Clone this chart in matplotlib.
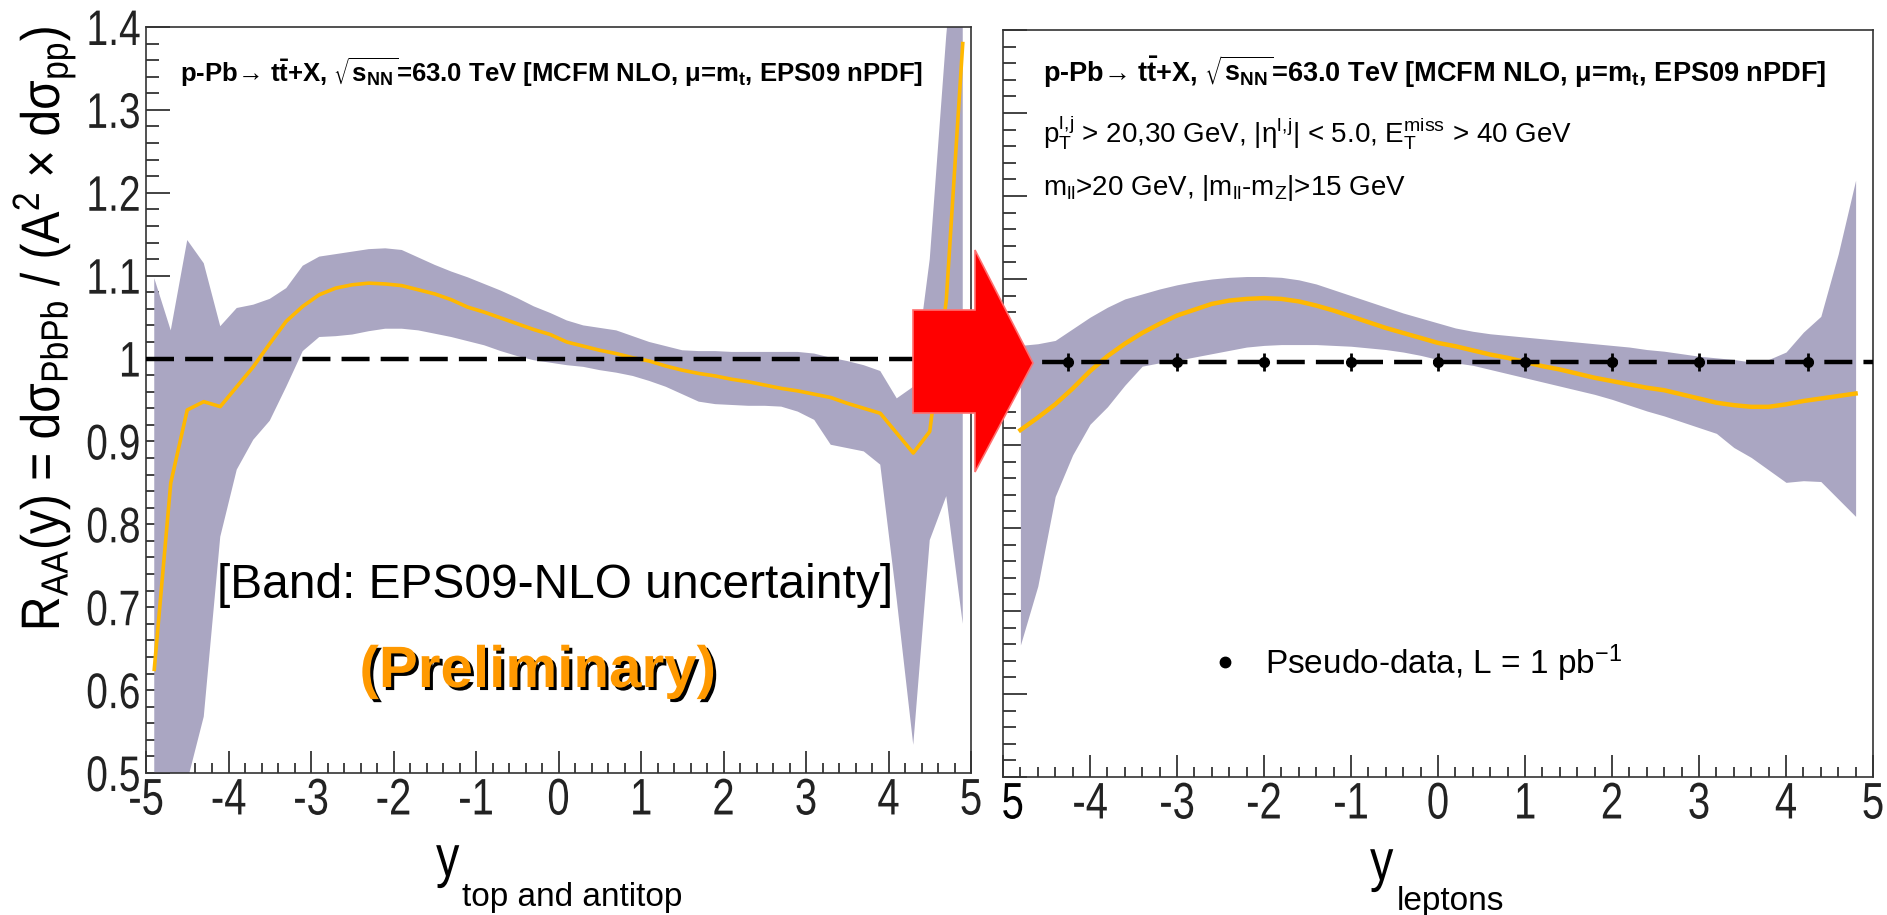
import matplotlib
matplotlib.use("Agg")
import matplotlib.pyplot as plt
import matplotlib.patheffects as pe
from matplotlib.patches import Polygon
from matplotlib.ticker import FixedLocator, MultipleLocator
from matplotlib.transforms import Affine2D

W, H = 1887, 915

# left panel: R_AA vs rapidity of top and antitop
y_top = [-4.9, -4.7, -4.5, -4.3, -4.1, -3.9, -3.7, -3.5, -3.3, -3.1,
         -2.9, -2.7, -2.5, -2.3, -2.1, -1.9, -1.7, -1.5, -1.3, -1.1,
         -0.9, -0.7, -0.5, -0.3, -0.1, 0.1, 0.3, 0.5, 0.7, 0.9,
         1.1, 1.3, 1.5, 1.7, 1.9, 2.1, 2.3, 2.5, 2.7, 2.9,
         3.1, 3.3, 3.5, 3.7, 3.9, 4.1, 4.3, 4.5, 4.7, 4.9]
raa_top = [0.625, 0.850, 0.938, 0.948, 0.942, 0.966, 0.990, 1.018, 1.045, 1.063,
           1.077, 1.085, 1.089, 1.091, 1.090, 1.088, 1.083, 1.078, 1.071, 1.062,
           1.056, 1.049, 1.042, 1.035, 1.029, 1.020, 1.015, 1.010, 1.006, 1.001,
           0.997, 0.991, 0.986, 0.982, 0.979, 0.975, 0.972, 0.968, 0.964, 0.961,
           0.957, 0.953, 0.946, 0.940, 0.934, 0.910, 0.886, 0.912, 1.070, 1.380]
raa_top_lo = [0.300, 0.420, 0.490, 0.568, 0.785, 0.866, 0.902, 0.925, 0.966, 1.009,
              1.026, 1.027, 1.029, 1.033, 1.036, 1.036, 1.034, 1.030, 1.026, 1.021,
              1.016, 1.009, 1.003, 0.998, 0.995, 0.992, 0.990, 0.986, 0.983, 0.979,
              0.973, 0.966, 0.957, 0.948, 0.945, 0.944, 0.943, 0.943, 0.942, 0.936,
              0.926, 0.896, 0.892, 0.888, 0.872, 0.709, 0.534, 0.781, 0.834, 0.680]
raa_top_hi = [1.097, 1.034, 1.143, 1.115, 1.039, 1.061, 1.065, 1.072, 1.085, 1.112,
              1.123, 1.126, 1.129, 1.132, 1.133, 1.131, 1.122, 1.113, 1.105, 1.098,
              1.090, 1.082, 1.073, 1.063, 1.055, 1.046, 1.040, 1.037, 1.034, 1.027,
              1.020, 1.015, 1.010, 1.009, 1.009, 1.008, 1.008, 1.008, 1.008, 1.008,
              1.006, 1.001, 0.997, 0.992, 0.985, 0.952, 0.966, 1.120, 1.390, 1.600]

# right panel: R_AA vs lepton rapidity
y_lep = [-4.8, -4.6, -4.4, -4.2, -4.0, -3.8, -3.6, -3.4, -3.2, -3.0,
         -2.8, -2.6, -2.4, -2.2, -2.0, -1.8, -1.6, -1.4, -1.2, -1.0,
         -0.8, -0.6, -0.4, -0.2, 0.0, 0.2, 0.4, 0.6, 0.8, 1.0,
         1.2, 1.4, 1.6, 1.8, 2.0, 2.2, 2.4, 2.6, 2.8, 3.0,
         3.2, 3.4, 3.6, 3.8, 4.0, 4.2, 4.4, 4.6, 4.8]
raa_lep = [0.918, 0.933, 0.949, 0.968, 0.989, 1.007, 1.022, 1.035, 1.046, 1.056,
           1.063, 1.070, 1.074, 1.076, 1.077, 1.076, 1.073, 1.068, 1.062, 1.055,
           1.048, 1.041, 1.035, 1.029, 1.023, 1.019, 1.014, 1.009, 1.005, 1.000,
           0.995, 0.991, 0.986, 0.981, 0.977, 0.973, 0.969, 0.966, 0.961, 0.956,
           0.951, 0.948, 0.946, 0.946, 0.949, 0.953, 0.956, 0.959, 0.962]
raa_lep_lo = [0.659, 0.730, 0.838, 0.888, 0.925, 0.946, 0.972, 0.995, 0.999, 1.002,
              1.006, 1.010, 1.014, 1.018, 1.020, 1.021, 1.021, 1.021, 1.020, 1.019,
              1.017, 1.015, 1.012, 1.008, 1.003, 0.999, 0.996, 0.991, 0.986, 0.981,
              0.976, 0.971, 0.966, 0.961, 0.955, 0.948, 0.941, 0.935, 0.928, 0.921,
              0.914, 0.897, 0.885, 0.870, 0.855, 0.857, 0.856, 0.835, 0.814]
raa_lep_hi = [1.020, 1.022, 1.026, 1.040, 1.054, 1.066, 1.076, 1.082, 1.088, 1.093,
              1.097, 1.100, 1.102, 1.103, 1.103, 1.102, 1.099, 1.094, 1.087, 1.080,
              1.073, 1.066, 1.059, 1.053, 1.047, 1.041, 1.037, 1.034, 1.032, 1.030,
              1.028, 1.026, 1.024, 1.022, 1.020, 1.018, 1.015, 1.013, 1.010, 1.007,
              1.005, 1.003, 1.000, 1.003, 1.012, 1.036, 1.055, 1.130, 1.219]

# pseudo-data points (L = 1 pb^-1)
y_pd = [-4.25, -3.0, -2.0, -1.0, 0.0, 1.0, 2.0, 3.0, 4.25]
raa_pd = [1.0, 1.0, 1.0, 1.0, 1.0, 1.0, 1.0, 1.0, 1.0]
raa_pd_err = [0.011, 0.011, 0.011, 0.011, 0.011, 0.011, 0.011, 0.011, 0.011]

xticks = [-5, -4, -3, -2, -1, 0, 1, 2, 3, 4, 5]
xticklabels = ["-5", "-4", "-3", "-2", "-1", "0", "1", "2", "3", "4", "5"]
# the right pad hides the minus sign of its first label
xticklabels_right = ["", "-4", "-3", "-2", "-1", "0", "1", "2", "3", "4", "5"]
yticks = [0.5, 0.6, 0.7, 0.8, 0.9, 1.0, 1.1, 1.2, 1.3, 1.4]
yticklabels = ["0.5", "0.6", "0.7", "0.8", "0.9", "1", "1.1", "1.2", "1.3", "1.4"]

BAND = "#aaa6c2"
LINE = "#ffb800"

plt.rcParams["font.family"] = ["Liberation Sans", "DejaVu Sans"]
plt.rcParams["mathtext.default"] = "regular"


class Squeeze(pe.AbstractPathEffect):
    # narrow the glyphs along the text direction, like the condensed ROOT font
    def __init__(self, sx, anchor="center"):
        super().__init__()
        self.sx = sx
        self.anchor = anchor

    def draw_path(self, renderer, gc, tpath, affine, rgbFace=None):
        ext = tpath.get_extents()
        if self.anchor == "right":
            x0 = ext.x1
        elif self.anchor == "left":
            x0 = ext.x0
        else:
            x0 = 0.5 * (ext.x0 + ext.x1)
        sq = Affine2D().translate(-x0, 0).scale(self.sx, 1).translate(x0, 0)
        renderer.draw_path(gc, tpath, sq + affine, rgbFace)


def fx(px):
    return px / W


def fy(py):
    return 1 - py / H


fig = plt.figure(figsize=(W / 100, H / 100), dpi=100)
ax1 = fig.add_axes([fx(146), fy(773), 825 / W, 746 / H])
ax2 = fig.add_axes([fx(1003), fy(777), 870 / W, 747 / H])


def style_axes(ax, xlabels, show_ylabels):
    ax.set_xlim(-5, 5)
    ax.set_ylim(0.5, 1.4)
    ax.set_axisbelow(True)
    ax.xaxis.set_major_locator(FixedLocator(xticks))
    ax.yaxis.set_major_locator(FixedLocator(yticks))
    ax.xaxis.set_minor_locator(MultipleLocator(0.2))
    ax.yaxis.set_minor_locator(MultipleLocator(0.02))
    ax.set_xticklabels(xlabels)
    if show_ylabels:
        ax.set_yticklabels(yticklabels)
    else:
        ax.set_yticklabels([])
    ax.tick_params(which="both", direction="in", top=False, right=False,
                   colors="#222222", width=1.2)
    ax.tick_params(axis="y", which="major", length=17, pad=3.5, labelsize=36)
    ax.tick_params(axis="y", which="minor", length=9.5)
    ax.tick_params(axis="x", which="major", length=16, pad=2.5, labelsize=37)
    ax.tick_params(axis="x", which="minor", length=7.5)
    for lab in ax.get_xticklabels():
        lab.set_path_effects([Squeeze(0.78, "center")])
    for lab in ax.get_yticklabels():
        lab.set_path_effects([Squeeze(0.78, "right")])
    for sp in ax.spines.values():
        sp.set_linewidth(1.2)
        sp.set_color("#333333")


# left panel
ax1.fill_between(y_top, raa_top_lo, raa_top_hi, color=BAND, lw=0, zorder=1)
ax1.plot(y_top, raa_top, color=LINE, lw=2.6, zorder=2)
ax1.axhline(1.0, color="black", lw=3.2, dashes=(6.3, 2.5), zorder=3)
style_axes(ax1, xticklabels, True)

# right panel
ax2.fill_between(y_lep, raa_lep_lo, raa_lep_hi, color=BAND, lw=0, zorder=1)
ax2.plot(y_lep, raa_lep, color=LINE, lw=3.2, zorder=2)
ax2.axhline(1.0, color="black", lw=3.2, dashes=(6.3, 2.5), zorder=3)
ax2.errorbar(y_pd, raa_pd, yerr=raa_pd_err, fmt="o", color="black", ms=7,
             elinewidth=2, capsize=0, zorder=4)
ax2.plot([], [], "o", color="black", ms=7.5, label=r"Pseudo-data, L = 1 pb$^{-1}$")
style_axes(ax2, xticklabels_right, False)
ax2.legend(loc="center left", bbox_to_anchor=(fx(1215), fy(663)),
           bbox_transform=fig.transFigure, frameon=False, fontsize=24,
           handlelength=0.6, handletextpad=0.9, borderpad=0, borderaxespad=0)
ax2.annotate("5", xy=(-5, 0), xycoords=("data", "axes fraction"),
             xytext=(7, -2.5), textcoords="offset points", ha="center", va="top",
             fontsize=37, path_effects=[Squeeze(0.78, "center")])

# texts
header = (r"p-Pb→ t$\bar{t}$+X, $\sqrt{s_{NN}}$=63.0 TeV "
          r"[MCFM NLO, $\mu$=m$_{t}$, EPS09 nPDF]")
fig.text(fx(180), fy(82), header, fontsize=18.5, fontweight="bold", va="baseline")
fig.text(fx(1043), fy(82), header, fontsize=19.5, fontweight="bold", va="baseline")
fig.text(fx(1043), fy(143),
         r"$p_{T}^{l,\!j}$ > 20,30 GeV, |$\eta^{l,\!j}$| < 5.0, $E_{T}^{miss}$ > 40 GeV",
         fontsize=20, va="baseline")
fig.text(fx(1043), fy(195), r"$m_{ll}$>20 GeV, |$m_{ll}$-$m_{Z}$|>15 GeV",
         fontsize=20, va="baseline")

fig.text(fx(555), fy(585), "[Band: EPS09-NLO uncertainty]", fontsize=34.5,
         ha="center", va="center")
fig.text(fx(538), fy(672), "(Preliminary)", fontsize=42, fontweight="bold",
         color="#ff9900", ha="center", va="center",
         path_effects=[pe.SimplePatchShadow(offset=(2.2, -2.2), shadow_rgbFace="black",
                                            alpha=1.0), pe.Normal()])

fig.text(fx(44), fy(27),
         r"R$_{AA}$(y) = d$\sigma_{PbPb}$ / (A$^{2}$ $\times$ d$\sigma_{pp}$)",
         rotation=90, ha="center", va="top", fontsize=39,
         path_effects=[Squeeze(0.885, "right")])

fig.text(fx(436), fy(876), "y", fontsize=42, va="baseline",
         path_effects=[Squeeze(0.8, "left")])
fig.text(fx(462), fy(906), "top and antitop", fontsize=24, va="baseline")
fig.text(fx(1370), fy(880), "y", fontsize=42, va="baseline",
         path_effects=[Squeeze(0.8, "left")])
fig.text(fx(1397), fy(910), "leptons", fontsize=24, va="baseline")

# red arrow between the panels
arrow_px = [(913, 310), (975, 310), (975, 250), (1033, 363),
            (975, 472), (975, 413), (913, 413)]
fig.add_artist(Polygon([(fx(x), fy(y)) for x, y in arrow_px], closed=True,
                       transform=fig.transFigure, facecolor="#ff0000",
                       edgecolor="#ff7070", lw=1.2, zorder=10))

fig.savefig("out.png", dpi=100)
